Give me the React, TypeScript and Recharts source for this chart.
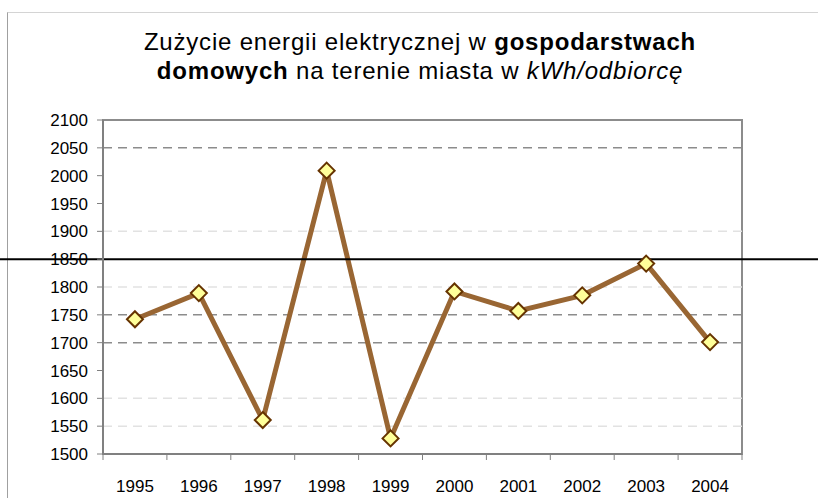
import React from 'react';
import { LineChart, Line, XAxis, YAxis, ReferenceLine, ReferenceArea } from 'recharts';

const years = ['1995', '1996', '1997', '1998', '1999', '2000', '2001', '2002', '2003', '2004'];
const usage = [1742, 1789, 1561, 2009, 1528, 1792, 1757, 1785, 1842, 1701];
const yTicks = [1500, 1550, 1600, 1650, 1700, 1750, 1800, 1850, 1900, 1950, 2000, 2050, 2100];
const darkGrid = [2050, 1750, 1700];
const lightGrid = [1900, 1800, 1600, 1550];
const markLine = 1850;

const W = 818;
const H = 498;
const FONT = '"Liberation Sans", Arial, sans-serif';
const HALF_BAND = (742 - 103) / years.length / 2;

const data = years.map((year, i) => ({ year, value: usage[i] }));

const Diamond = (props: any) => {
    const { cx, cy } = props;
    if (cx == null || cy == null) return null;
    const r = 8;
    return (
        <polygon
            points={`${cx},${cy - r} ${cx + r},${cy} ${cx},${cy + r} ${cx - r},${cy}`}
            fill="#ffff99"
            stroke="#663300"
            strokeWidth={2}
        />
    );
};

const YearTick = (props: any) => {
    const { x, y, payload, index } = props;
    return (
        <g>
            <line x1={x - HALF_BAND} x2={x - HALF_BAND} y1={y - 8} y2={y - 2} stroke="#808080" />
            {index === years.length - 1 && (
                <line x1={x + HALF_BAND} x2={x + HALF_BAND} y1={y - 8} y2={y - 2} stroke="#808080" />
            )}
            <text x={x} y={y + 30} textAnchor="middle" fill="#000" fontSize={17} fontFamily={FONT}>
                {payload.value}
            </text>
        </g>
    );
};

export default function App() {
    return (
        <div style={{ position: 'absolute', left: 0, top: 0, width: W, height: H, background: '#fff', overflow: 'hidden' }}>
            <div
                style={{
                    position: 'absolute',
                    left: 7,
                    top: 12,
                    width: W,
                    height: H,
                    borderTop: '1px solid #d4d4d4',
                    borderLeft: '1px solid #a0a0a0',
                }}
            />
            <div
                style={{
                    position: 'absolute',
                    left: 0,
                    top: 27,
                    width: 840,
                    textAlign: 'center',
                    fontFamily: FONT,
                    fontSize: 24,
                    letterSpacing: '0.8px',
                    lineHeight: '29px',
                    color: '#000',
                }}
            >
                <div>
                    Zużycie energii elektrycznej w <b>gospodarstwach</b>
                </div>
                <div>
                    <b>domowych</b> na terenie miasta w <i>kWh/odbiorcę</i>
                </div>
            </div>
            <div style={{ position: 'absolute', left: 0, top: 0 }}>
                <LineChart width={W} height={H} data={data} margin={{ top: 120, right: 76, left: 43, bottom: 14 }}>
                    {lightGrid.map((v) => (
                        <ReferenceLine key={'l' + v} y={v} stroke="#e2e2e2" strokeWidth={1.5} strokeDasharray="9 6" />
                    ))}
                    {darkGrid.map((v) => (
                        <ReferenceLine key={'d' + v} y={v} stroke="#8c8c8c" strokeWidth={1.5} strokeDasharray="9 6" />
                    ))}
                    <ReferenceArea y1={1500} y2={2100} fill="none" stroke="#8c8c8c" strokeWidth={2} />
                    <XAxis
                        dataKey="year"
                        scale="band"
                        height={30}
                        axisLine={{ stroke: '#808080', strokeWidth: 2 }}
                        tickLine={false}
                        tick={<YearTick />}
                        interval={0}
                    />
                    <YAxis
                        type="number"
                        domain={[1500, 2100]}
                        ticks={yTicks}
                        width={60}
                        interval={0}
                        axisLine={{ stroke: '#808080', strokeWidth: 2 }}
                        tickLine={{ stroke: '#808080' }}
                        tickSize={6}
                        tickMargin={9}
                        tick={{ fill: '#000', fontSize: 17, fontFamily: FONT }}
                    />
                    <Line
                        dataKey="value"
                        stroke="#996633"
                        strokeWidth={5}
                        dot={<Diamond />}
                        activeDot={false}
                        isAnimationActive={false}
                    />
                    <ReferenceLine
                        y={markLine}
                        shape={(p: any) => <line x1={0} x2={W} y1={p.y1} y2={p.y2} stroke="#000" strokeWidth={2} />}
                    />
                </LineChart>
            </div>
        </div>
    );
}
